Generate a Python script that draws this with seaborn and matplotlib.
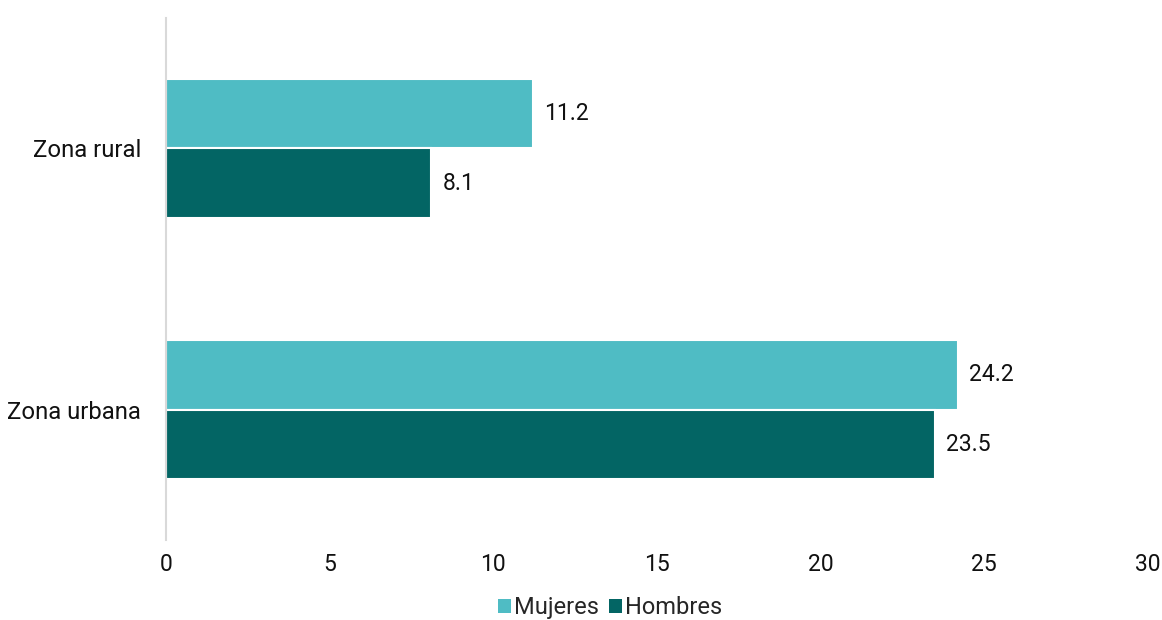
import matplotlib
matplotlib.use("Agg")
import matplotlib.pyplot as plt
import seaborn as sns
import pandas as pd
from matplotlib.patches import Patch

categories = ["Zona rural", "Zona urbana"]
series = ["Mujeres", "Hombres"]
mujeres = [11.2, 24.2]
hombres = [8.1, 23.5]
colors = ["#4FBCC4", "#036564"]

df = pd.DataFrame({
    "zona": categories * 2,
    "sexo": [series[0]] * 2 + [series[1]] * 2,
    "valor": mujeres + hombres,
})

sns.set_theme(style="white")
plt.rcParams["font.family"] = ["Roboto", "DejaVu Sans"]

fig = plt.figure(figsize=(11.62, 6.2), dpi=100)
ax = fig.add_axes([0.1429, 0.129, 0.845, 0.842])
sns.barplot(data=df, y="zona", x="valor", hue="sexo", order=categories,
            hue_order=series, palette=colors, saturation=1, orient="h", width=0.535,
            edgecolor="white", linewidth=1.5, ax=ax, legend=False)

for cont in ax.containers:
    ax.bar_label(cont, fmt="%.1f", padding=8, fontsize=16.5, color="#111111")

ax.set_xlim(0, 30)
ax.set_ylim(1.5, -0.5)
ax.set_xticks(range(0, 31, 5))
ax.set_xlabel("")
ax.set_ylabel("")
ax.tick_params(axis="both", length=0, labelsize=16.5, colors="#111111")
ax.tick_params(axis="y", labelsize=17.2, pad=18)
ax.tick_params(axis="x", pad=9)
for s in ["top", "right", "bottom"]:
    ax.spines[s].set_visible(False)
ax.spines["left"].set_color("#D9D9D9")
ax.spines["left"].set_linewidth(1.5)

handles = [Patch(facecolor=c, edgecolor="none") for c in colors]
fig.legend(handles, series, loc="lower center", bbox_to_anchor=(0.525, -0.033),
           ncol=2, frameon=False, fontsize=17, handlelength=0.55, handleheight=0.55,
           handletextpad=0.15, columnspacing=0.4)

fig.savefig("out.png", dpi=100)
